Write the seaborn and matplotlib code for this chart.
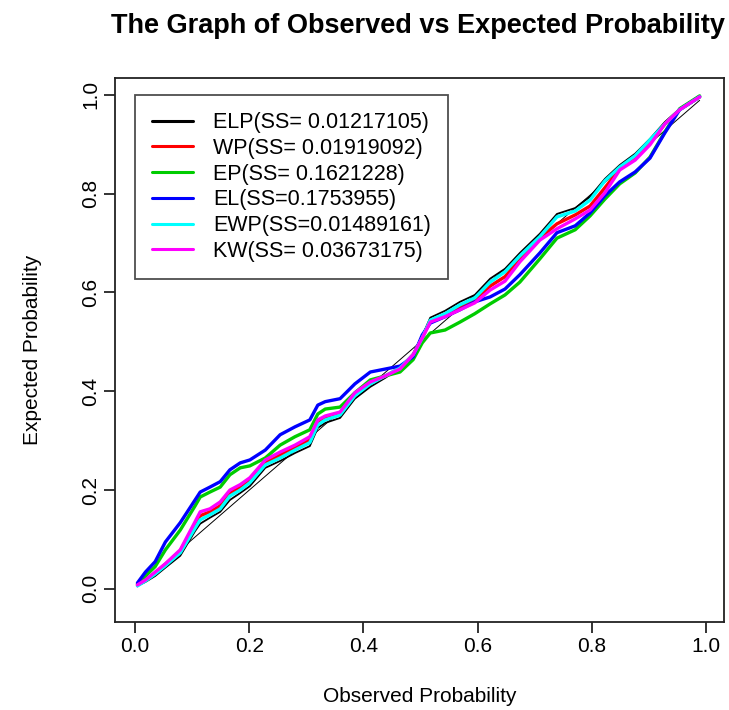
import seaborn as sns
import matplotlib.pyplot as plt
import pandas as pd
from matplotlib.lines import Line2D

# observed probability (x) shared by all series
observed = [0.004, 0.018, 0.035, 0.053, 0.079, 0.105, 0.114, 0.131, 0.149, 0.166,
            0.184, 0.201, 0.228, 0.254, 0.280, 0.306, 0.320, 0.333, 0.359, 0.385,
            0.412, 0.438, 0.464, 0.487, 0.503, 0.517, 0.543, 0.569, 0.595, 0.622,
            0.648, 0.674, 0.709, 0.739, 0.771, 0.797, 0.823, 0.849, 0.876, 0.902,
            0.928, 0.954, 0.989]

elp = [0.006, 0.014, 0.026, 0.043, 0.067, 0.117, 0.132, 0.144, 0.156, 0.180,
       0.194, 0.208, 0.245, 0.259, 0.275, 0.289, 0.326, 0.336, 0.346, 0.385,
       0.409, 0.427, 0.447, 0.476, 0.512, 0.549, 0.563, 0.581, 0.595, 0.628,
       0.648, 0.680, 0.719, 0.759, 0.771, 0.794, 0.830, 0.858, 0.881, 0.911,
       0.945, 0.972, 0.996]
wp = [0.008, 0.018, 0.032, 0.049, 0.077, 0.130, 0.148, 0.156, 0.168, 0.194,
      0.206, 0.221, 0.255, 0.271, 0.287, 0.302, 0.338, 0.346, 0.356, 0.395,
      0.417, 0.431, 0.447, 0.474, 0.508, 0.542, 0.555, 0.571, 0.585, 0.613,
      0.632, 0.668, 0.710, 0.739, 0.757, 0.775, 0.812, 0.850, 0.872, 0.903,
      0.941, 0.970, 0.996]
ep = [0.010, 0.026, 0.045, 0.079, 0.119, 0.168, 0.186, 0.196, 0.206, 0.231,
      0.245, 0.249, 0.265, 0.291, 0.308, 0.322, 0.354, 0.364, 0.368, 0.397,
      0.423, 0.431, 0.439, 0.464, 0.498, 0.518, 0.524, 0.540, 0.557, 0.577,
      0.595, 0.621, 0.668, 0.710, 0.727, 0.755, 0.789, 0.820, 0.842, 0.874,
      0.925, 0.972, 0.998]
el = [0.012, 0.034, 0.055, 0.095, 0.134, 0.180, 0.196, 0.206, 0.217, 0.241,
      0.255, 0.261, 0.281, 0.312, 0.328, 0.342, 0.372, 0.379, 0.385, 0.415,
      0.439, 0.445, 0.451, 0.470, 0.514, 0.538, 0.551, 0.565, 0.581, 0.591,
      0.607, 0.636, 0.680, 0.721, 0.735, 0.761, 0.796, 0.824, 0.844, 0.872,
      0.923, 0.970, 0.996]
ewp = [0.006, 0.016, 0.030, 0.047, 0.073, 0.123, 0.140, 0.150, 0.162, 0.188,
       0.200, 0.215, 0.251, 0.265, 0.281, 0.296, 0.332, 0.342, 0.352, 0.391,
       0.415, 0.431, 0.447, 0.474, 0.508, 0.544, 0.557, 0.575, 0.589, 0.621,
       0.642, 0.674, 0.713, 0.753, 0.765, 0.787, 0.826, 0.854, 0.877, 0.909,
       0.941, 0.970, 0.996]
kw = [0.008, 0.018, 0.034, 0.051, 0.079, 0.136, 0.156, 0.162, 0.176, 0.200,
      0.211, 0.225, 0.261, 0.277, 0.291, 0.308, 0.342, 0.350, 0.358, 0.397,
      0.419, 0.431, 0.445, 0.474, 0.508, 0.540, 0.551, 0.565, 0.579, 0.605,
      0.623, 0.662, 0.706, 0.729, 0.749, 0.767, 0.802, 0.848, 0.868, 0.899,
      0.941, 0.970, 0.996]

labels = ["ELP(SS= 0.01217105)", "WP(SS= 0.01919092)", "EP(SS= 0.1621228)",
          "EL(SS=0.1753955)", "EWP(SS=0.01489161)", "KW(SS= 0.03673175)"]
colors = ["black", "red", "#00cc00", "blue", "cyan", "magenta"]
series = [elp, wp, ep, el, ewp, kw]

sns.set_theme(style="ticks")
plt.rcParams['font.family'] = ['Liberation Sans', 'DejaVu Sans']
plt.rcParams['text.color'] = 'black'
plt.rcParams['axes.labelcolor'] = 'black'

fig = plt.figure(figsize=(7.29, 7.10), dpi=100)
ax = fig.add_axes([0.158, 0.124, 0.835, 0.766])

# reference line y = x
sns.lineplot(x=[observed[0], observed[-1]], y=[observed[0], observed[-1]],
             color="black", linewidth=0.7, ax=ax)

for vals, col in zip(series, colors):
    df = pd.DataFrame({"obs": observed, "exp": vals})
    lw = 1.3 if col == "black" else 2.4
    sns.lineplot(data=df, x="obs", y="exp", color=col, linewidth=lw,
                 estimator=None, sort=False, ax=ax)

ax.set_xlim(-0.035, 1.0315)
ax.set_ylim(-0.067, 1.034)
ax.set_xticks([0.0, 0.2, 0.4, 0.6, 0.8, 1.0])
ax.set_yticks([0.0, 0.2, 0.4, 0.6, 0.8, 1.0])
ax.set_xticklabels(["0.0", "0.2", "0.4", "0.6", "0.8", "1.0"], fontsize=15)
ax.set_yticklabels(["0.0", "0.2", "0.4", "0.6", "0.8", "1.0"], fontsize=15,
                   rotation=90, va="center")
ax.tick_params(direction="out", length=8, width=1.2, colors="#111111",
               labelcolor="black", pad=3)
for s in ax.spines.values():
    s.set_visible(True)
    s.set_color("#222222")
    s.set_linewidth(1.3)

ax.set_xlabel("Observed Probability", fontsize=15, labelpad=22)
ax.set_ylabel("Expected Probability", fontsize=15, labelpad=28)
fig.text(0.573, 0.963, "The Graph of Observed vs Expected Probability",
         ha="center", va="center", fontsize=19.5, fontweight="bold")

handles = [Line2D([0], [0], color=c, lw=2.2) for c in colors]
leg = ax.legend(handles, labels, loc="upper left", bbox_to_anchor=(0.033, 0.969),
                fontsize=15.5, frameon=True, fancybox=False, edgecolor="#222222",
                handlelength=1.9, handletextpad=0.9, labelspacing=0.22,
                borderpad=0.8, borderaxespad=0)
leg.get_frame().set_linewidth(1.3)

fig.savefig("out.png", dpi=100)
